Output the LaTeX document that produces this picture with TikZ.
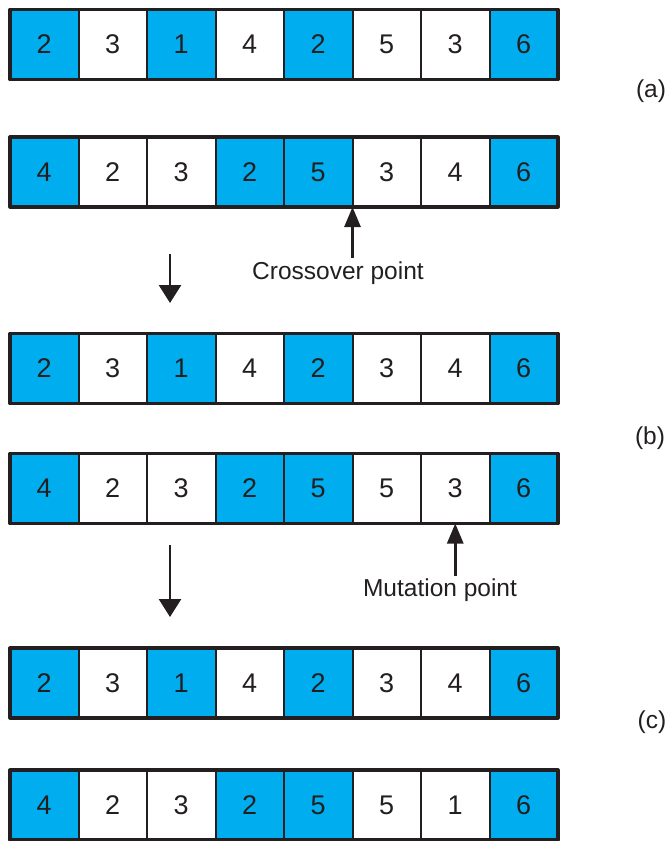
\documentclass[tikz,border=0pt]{standalone}
\usepackage{fontspec}
\setmainfont{Liberation Sans}
\usetikzlibrary{arrows.meta}
\definecolor{gablue}{RGB}{0,174,239}
\definecolor{gaink}{RGB}{35,31,32}
\tikzset{
  cell/.style={draw=gaink, line width=2pt, minimum width=68.5pt, minimum height=70pt,
    inner sep=0pt, outer sep=0pt, text=gaink, font=\fontsize{27}{30}\selectfont},
  B/.style={cell, fill=gablue},
  W/.style={cell, fill=white},
  rowframe/.style={draw=gaink, line width=3.2pt, line join=round},
  lbl/.style={text=gaink, font=\fontsize{24.5}{28}\selectfont, inner sep=0pt},
  bigarrow/.style={draw=gaink, line width=2.8pt, -{Triangle[length=18pt,width=22pt]}},
  uparrow/.style={draw=gaink, line width=2.8pt, -{Triangle[length=20pt,width=16pt]}}
}
\begin{document}
\begin{tikzpicture}[x=1pt,y=-1pt]
\useasboundingbox (0,0) rectangle (670,841);
% rows: name / centre y / list of value:style
\foreach \r/\yy/\cells in {
  1/44.5/{2/B,3/W,1/B,4/W,2/B,5/W,3/W,6/B},
  2/172/{4/B,2/W,3/W,2/B,5/B,3/W,4/W,6/B},
  3/368.5/{2/B,3/W,1/B,4/W,2/B,3/W,4/W,6/B},
  4/488.5/{4/B,2/W,3/W,2/B,5/B,5/W,3/W,6/B},
  5/683/{2/B,3/W,1/B,4/W,2/B,3/W,4/W,6/B},
  6/805/{4/B,2/W,3/W,2/B,5/B,5/W,1/W,6/B}}{
  \foreach \v/\c [count=\i] in \cells {
    \node[\c] (r\r c\i) at ({10+68.5*(\i-0.5)},\yy) {\v};
  }
  \draw[rowframe] (r\r c1.north west) rectangle (r\r c8.south east);
}
% labels
\node[lbl] (la) at (651,91) {(a)};
\node[lbl] (lb) at (650,438) {(b)};
\node[lbl] (lc) at (652,722) {(c)};
% crossover
\node[lbl] (cross) at (338,273) {Crossover point};
\coordinate (crossfoot) at (r2c5.south east |- 0,258);
\draw[uparrow] (crossfoot) -- (r2c5.south east);
% mutation
\node[lbl] (mut) at (440,590) {Mutation point};
\coordinate (mutfoot) at (r4c7.south |- 0,576);
\draw[uparrow] (mutfoot) -- (r4c7.south);
% down arrows
\coordinate (d1a) at (170,254);
\coordinate (d1b) at (170,303);
\draw[bigarrow] (d1a) -- (d1b);
\coordinate (d2a) at (170,545);
\coordinate (d2b) at (170,617);
\draw[bigarrow] (d2a) -- (d2b);
\end{tikzpicture}
\end{document}
